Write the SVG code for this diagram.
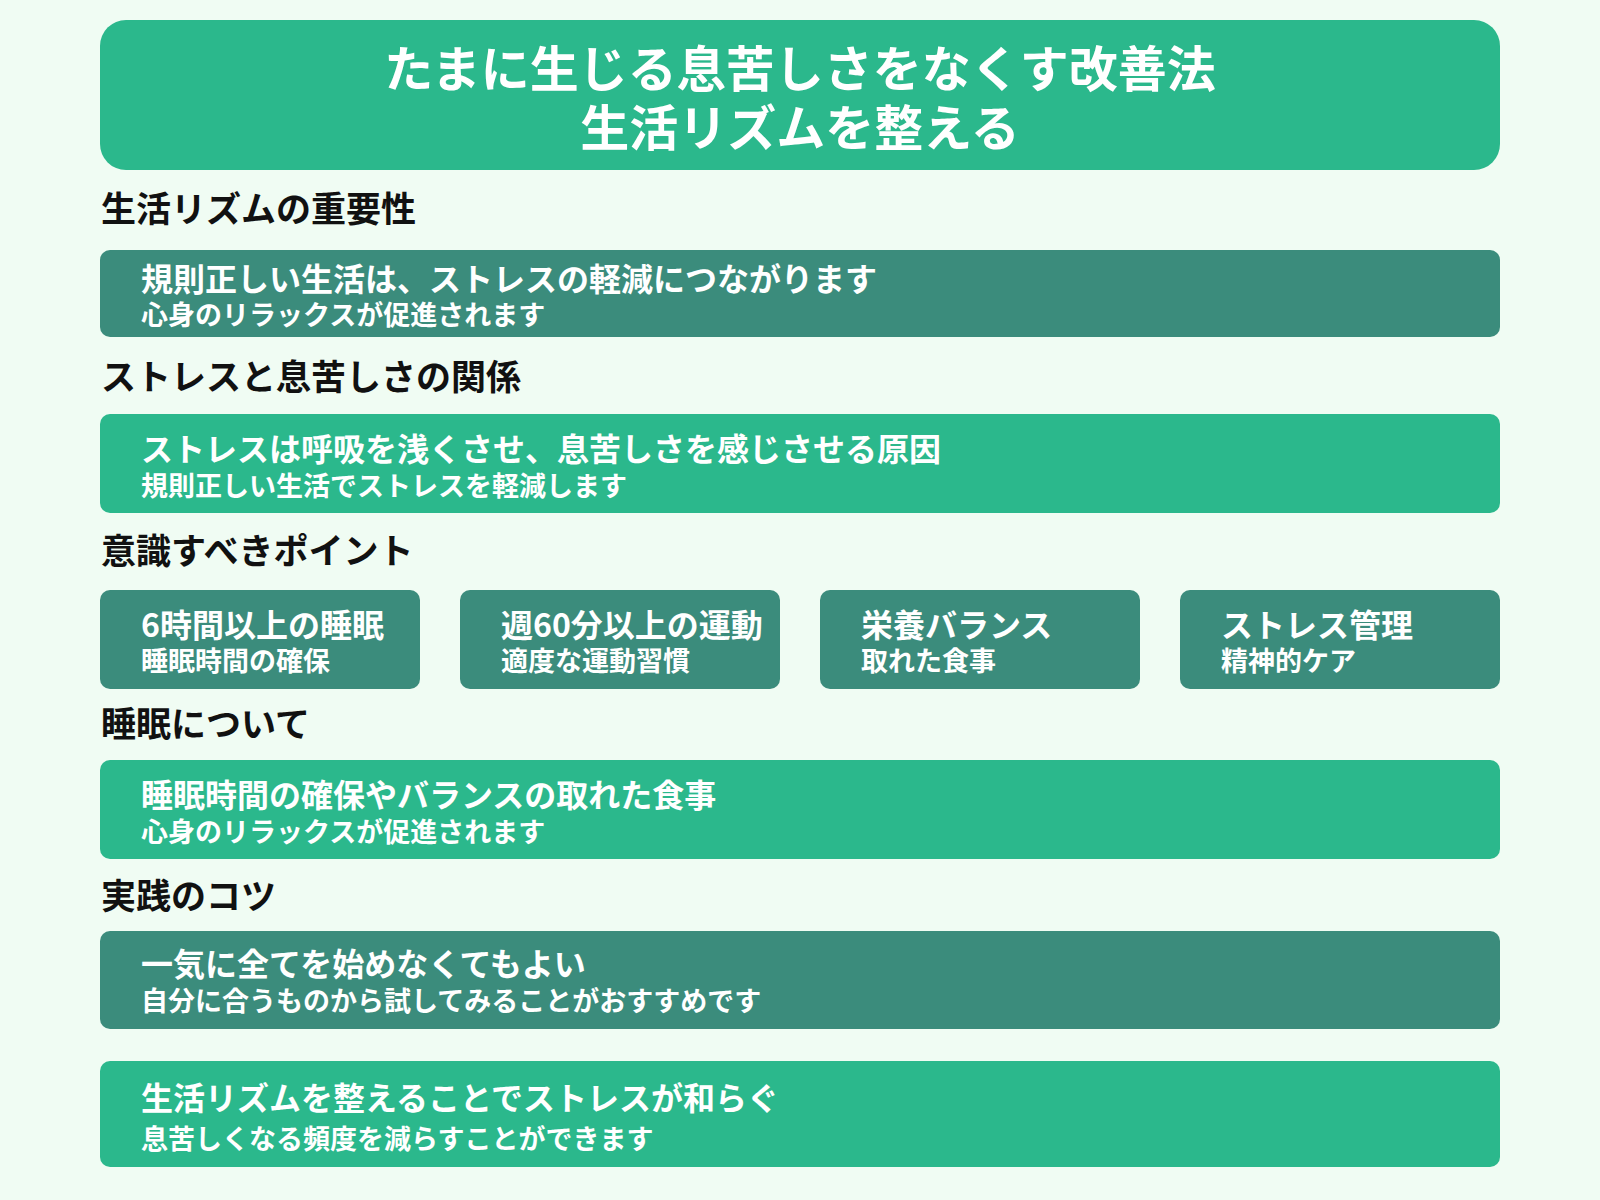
<svg xmlns="http://www.w3.org/2000/svg" width="1600" height="1200" viewBox="0 0 1600 1200">
<style>
text{font-family:"Noto Sans CJK JP","Noto Sans",sans-serif;font-weight:bold;dominant-baseline:central}
.g{fill:#2bb88c}.d{fill:#3b8c7c}
.h{font-size:35px;fill:#111}
.t{font-size:32px;fill:#fff}
.s{font-size:27px;fill:#fff}
.title{font-size:49px;fill:#fff;text-anchor:middle}
</style>
<rect width="1600" height="1200" fill="#f0fcf3"/>
<g id="title"><rect class="g" x="100" y="20" width="1400" height="150" rx="26"/>
<text class="title" x="800" y="65">たまに生じる息苦しさをなくす改善法</text>
<text class="title" x="800" y="124">生活リズムを整える</text></g>
<g id="h1"><text class="h" x="101" y="206">生活リズムの重要性</text></g>
<g id="b1"><rect class="d" x="100" y="250" width="1400" height="87" rx="10"/>
<text class="t" x="141" y="277">規則正しい生活は、ストレスの軽減につながります</text>
<text class="s" x="141" y="313">心身のリラックスが促進されます</text></g>
<g id="h2"><text class="h" x="101" y="374">ストレスと息苦しさの関係</text></g>
<g id="b2"><rect class="g" x="100" y="414" width="1400" height="99" rx="10"/>
<text class="t" x="141" y="447">ストレスは呼吸を浅くさせ、息苦しさを感じさせる原因</text>
<text class="s" x="141" y="484">規則正しい生活でストレスを軽減します</text></g>
<g id="h3"><text class="h" x="101" y="548">意識すべきポイント</text></g>
<g id="p1"><rect class="d" x="100" y="590" width="320" height="99" rx="10"/>
<text class="t" x="141" y="623">6時間以上の睡眠</text><text class="s" x="141" y="659">睡眠時間の確保</text></g>
<g id="p2"><rect class="d" x="460" y="590" width="320" height="99" rx="10"/>
<text class="t" x="501" y="623">週60分以上の運動</text><text class="s" x="501" y="659">適度な運動習慣</text></g>
<g id="p3"><rect class="d" x="820" y="590" width="320" height="99" rx="10"/>
<text class="t" x="861" y="623">栄養バランス</text><text class="s" x="861" y="659">取れた食事</text></g>
<g id="p4"><rect class="d" x="1180" y="590" width="320" height="99" rx="10"/>
<text class="t" x="1221" y="623">ストレス管理</text><text class="s" x="1221" y="659">精神的ケア</text></g>
<g id="h4"><text class="h" x="101" y="721">睡眠について</text></g>
<g id="b4"><rect class="g" x="100" y="760" width="1400" height="99" rx="10"/>
<text class="t" x="141" y="793">睡眠時間の確保やバランスの取れた食事</text>
<text class="s" x="141" y="830">心身のリラックスが促進されます</text></g>
<g id="h5"><text class="h" x="101" y="893">実践のコツ</text></g>
<g id="b5"><rect class="d" x="100" y="931" width="1400" height="98" rx="10"/>
<text class="t" x="141" y="962">一気に全てを始めなくてもよい</text>
<text class="s" x="141" y="999">自分に合うものから試してみることがおすすめです</text></g>
<g id="b6"><rect class="g" x="100" y="1061" width="1400" height="106" rx="10"/>
<text class="t" x="141" y="1096">生活リズムを整えることでストレスが和らぐ</text>
<text class="s" x="141" y="1137">息苦しくなる頻度を減らすことができます</text></g>
<g id="connectors"/>
</svg>
